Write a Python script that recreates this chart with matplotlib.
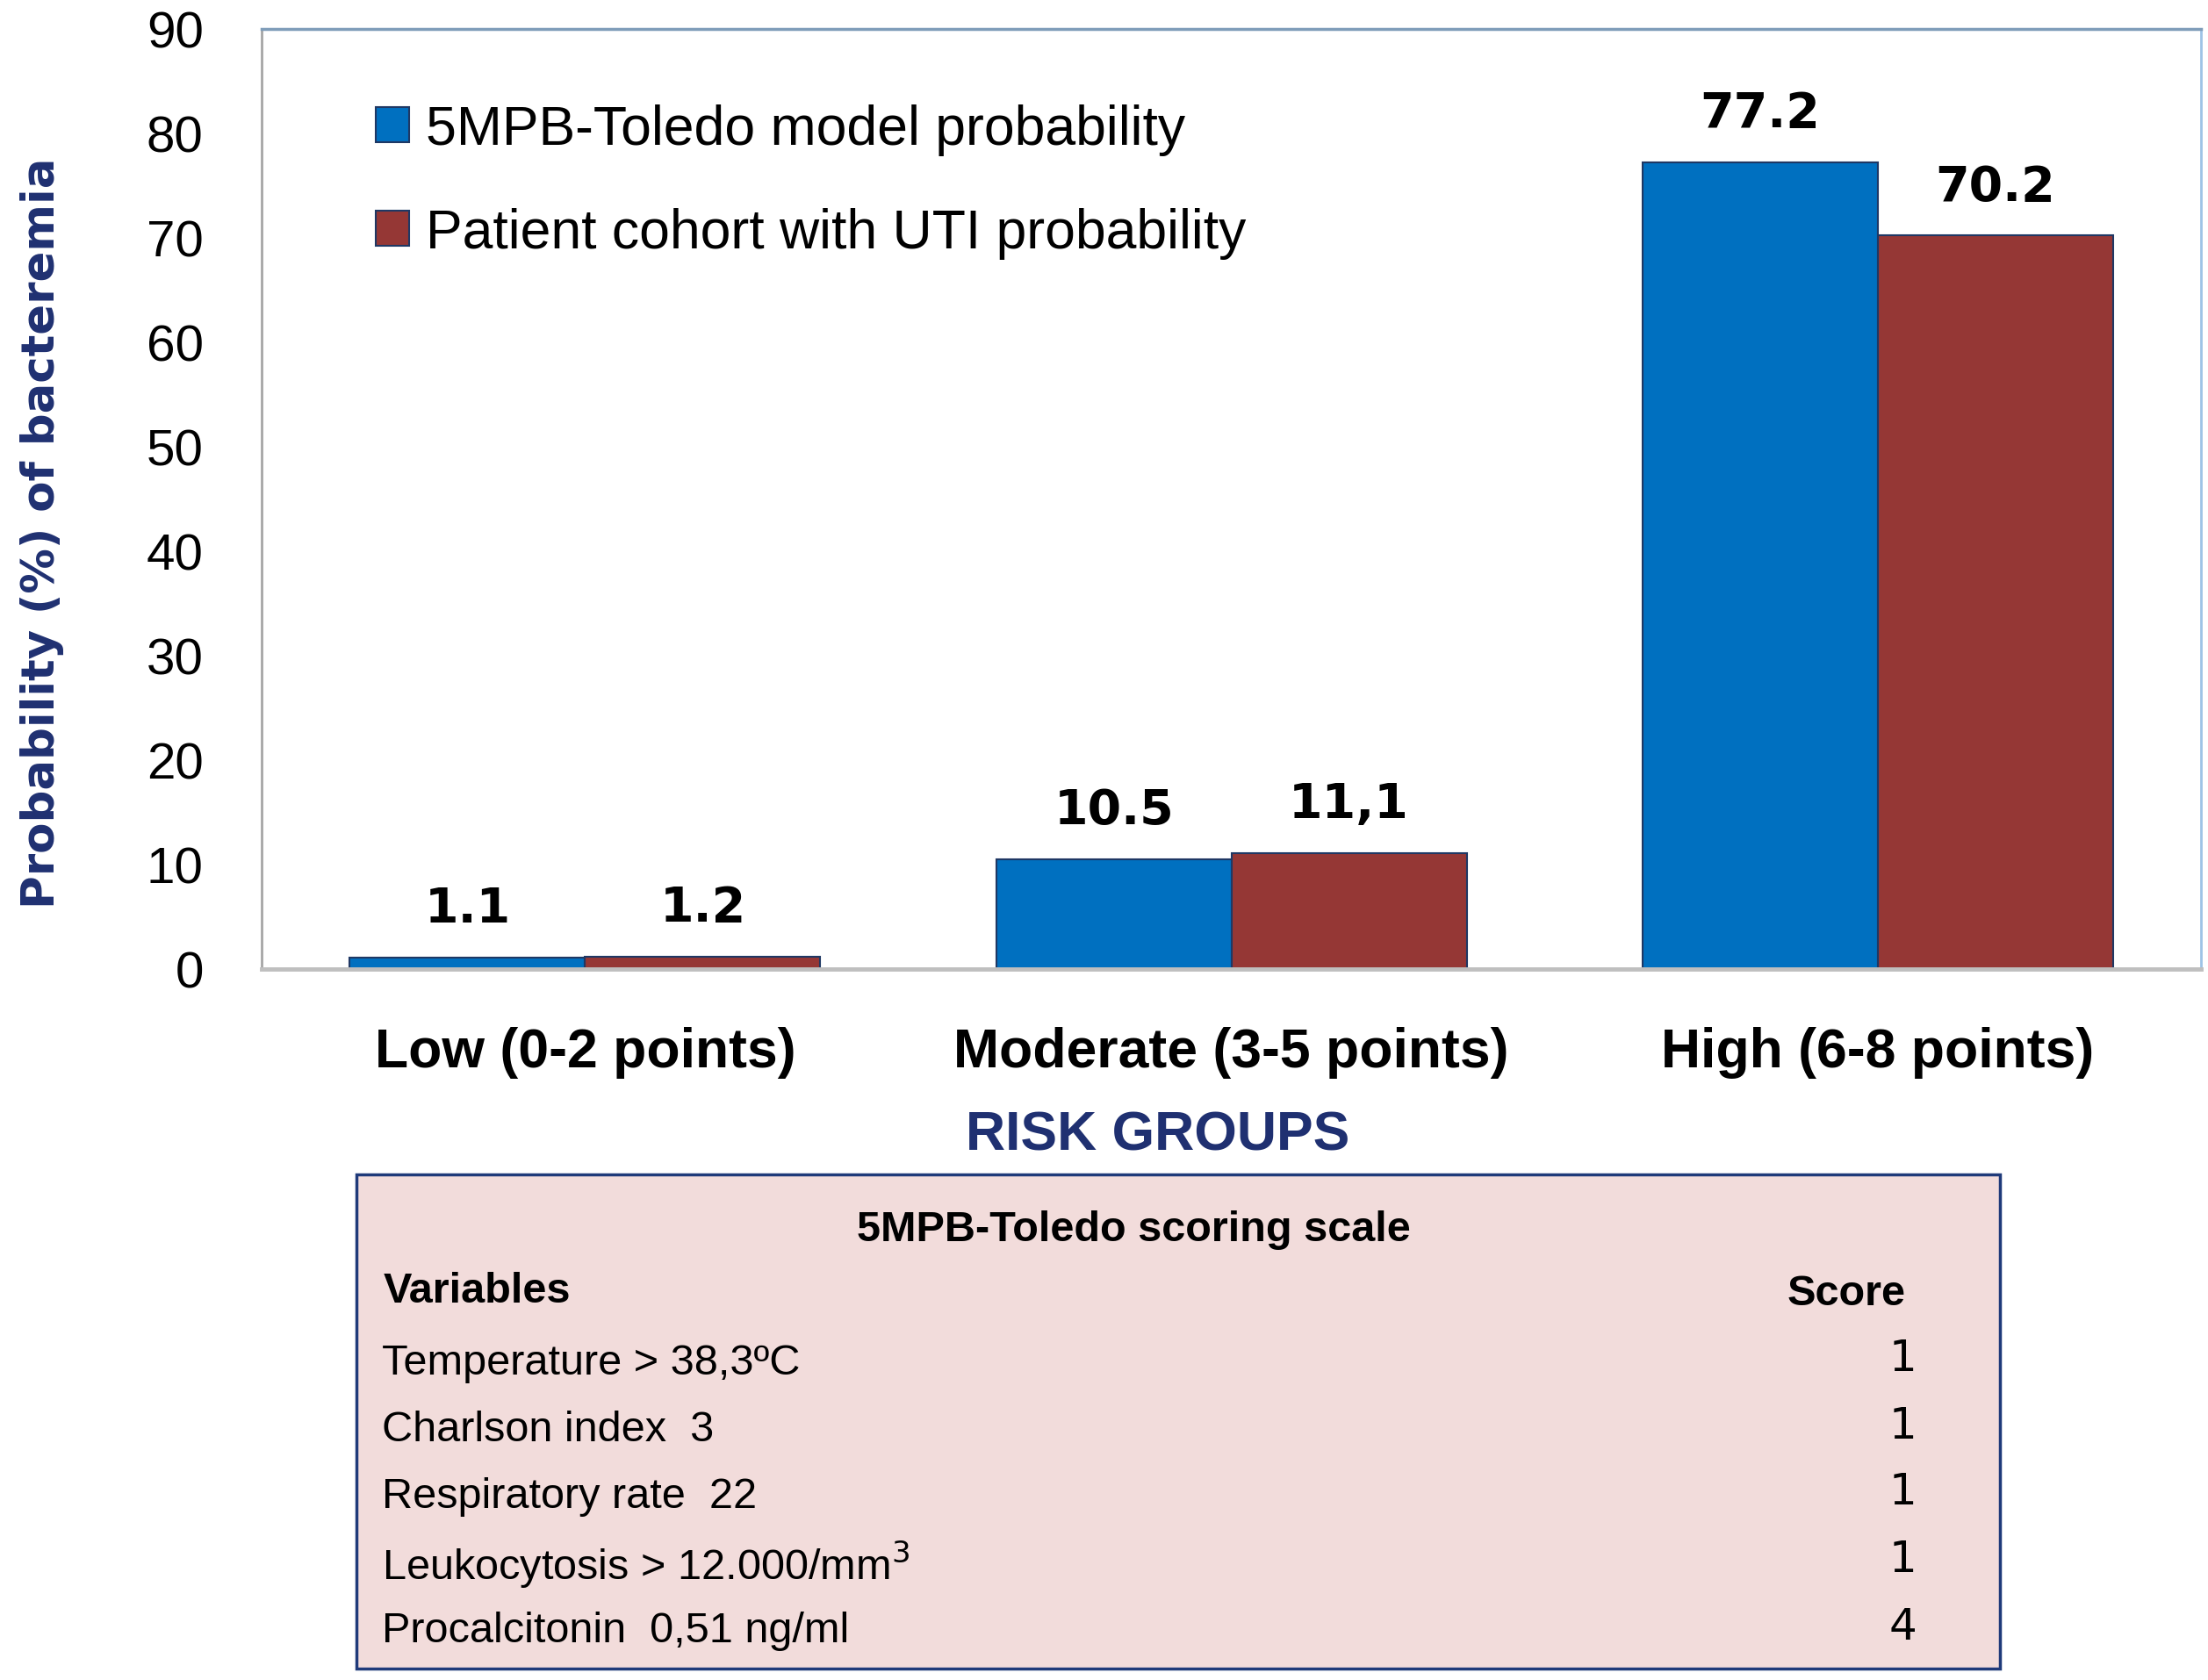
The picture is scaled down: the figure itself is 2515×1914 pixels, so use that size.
import matplotlib
matplotlib.use("Agg")
import matplotlib.pyplot as plt
import numpy as np
from matplotlib.patches import Rectangle

categories = ["Low (0-2 points)", "Moderate (3-5 points)", "High (6-8 points)"]
model_vals = [1.1, 10.5, 77.2]
cohort_vals = [1.2, 11.1, 70.2]
model_labels = ["1.1", "10.5", "77.2"]
cohort_labels = ["1.2", "11,1", "70.2"]
series_names = ["5MPB-Toledo model probability", "Patient cohort with UTI probability"]
yticks = [0, 10, 20, 30, 40, 50, 60, 70, 80, 90]

table_title = "5MPB-Toledo scoring scale"
table_vars = ["Temperature > 38,3ºC", "Charlson index  3", "Respiratory rate  22",
              r"Leukocytosis > 12.000/mm$^{3}$", "Procalcitonin  0,51 ng/ml"]
table_scores = ["1", "1", "1", "1", "4"]

W, H = 1568.0, 1196.0
def fx(x): return x / W
def fy(y): return 1 - y / H

BLUE = "#0070C0"
RED = "#953735"
NAVY = "#1F3071"

fig = plt.figure(figsize=(25.15, 19.15), dpi=100)
ax = fig.add_axes([fx(186), fy(690), fx(1563) - fx(186), fy(21) - fy(690)])

x = np.arange(len(categories))
bw = 0.364
b1 = ax.bar(x - bw / 2, model_vals, bw, color=BLUE, edgecolor="#1F3864", linewidth=1.5, label=series_names[0])
b2 = ax.bar(x + bw / 2, cohort_vals, bw, color=RED, edgecolor="#1F3864", linewidth=1.5, label=series_names[1])
ax.set_xlim(-0.5, 2.5)
ax.set_ylim(0, 90)
ax.set_yticks(yticks)
ax.set_yticklabels([str(t) for t in yticks], fontsize=42, family="Liberation Sans")
ax.tick_params(axis="y", length=0, pad=48)
ax.set_xticks(x)
ax.set_xticklabels(categories, fontsize=45, fontweight="bold", family="Liberation Sans")
ax.tick_params(axis="x", length=0, pad=47)

for xi, v, lab in zip(x - bw / 2, model_vals, model_labels):
    ax.annotate(lab, (xi, v), xytext=(0, 40), textcoords="offset points", ha="center", va="center",
                fontsize=40, fontweight="bold", family="DejaVu Sans")
for xi, v, lab in zip(x + bw / 2, cohort_vals, cohort_labels):
    ax.annotate(lab, (xi, v), xytext=(0, 40), textcoords="offset points", ha="center", va="center",
                fontsize=40, fontweight="bold", family="DejaVu Sans")

ax.spines["left"].set_color("#A6A6A6"); ax.spines["left"].set_linewidth(2)
ax.spines["bottom"].set_color("#BFBFBF"); ax.spines["bottom"].set_linewidth(3.5)
ax.spines["top"].set_color("#7F9DB9"); ax.spines["top"].set_linewidth(2.5)
ax.spines["right"].set_color("#9DC3E6"); ax.spines["right"].set_linewidth(2)

fig.text(fx(30), (fy(110) + fy(648)) / 2, "Probability (%) of bacteremia", rotation=90,
         ha="center", va="center", fontsize=37, fontweight="bold", color=NAVY, family="DejaVu Sans")

leg = ax.legend(handles=[b1, b2], loc="upper left", bbox_to_anchor=(fx(232), fy(39)),
                bbox_transform=fig.transFigure, frameon=False,
                prop={"family": "Liberation Sans", "size": 45},
                handlelength=0.6, handleheight=0.6, handletextpad=0.3, labelspacing=0.95)

fig.text(fx(822), fy(808), "RISK GROUPS", ha="center", va="center", fontsize=45,
         fontweight="bold", color=NAVY, family="Liberation Sans")

# table box
rect = Rectangle((fx(253), fy(1188)), fx(1420) - fx(253), fy(836) - fy(1188),
                 transform=fig.transFigure, facecolor="#F2DCDB", edgecolor="#1F3A7A", linewidth=2.5)
fig.patches.append(rect)
fig.text(fx(805), fy(875), table_title, ha="center", va="center", fontsize=35, fontweight="bold",
         family="Liberation Sans")
fig.text(fx(272), fy(919), "Variables", ha="left", va="center", fontsize=35, fontweight="bold",
         family="Liberation Sans")
fig.text(fx(1353), fy(921), "Score", ha="right", va="center", fontsize=35, fontweight="bold",
         family="Liberation Sans")
row_y = [970, 1018, 1065, 1113, 1161]
for yy, v, s in zip(row_y, table_vars, table_scores):
    fig.text(fx(271), fy(yy), v, ha="left", va="center", fontsize=35, family="Liberation Sans")
    fig.text(fx(1361), fy(yy - 3), s, ha="right", va="center", fontsize=36, family="DejaVu Sans")

fig.savefig("out.png", dpi=100)
